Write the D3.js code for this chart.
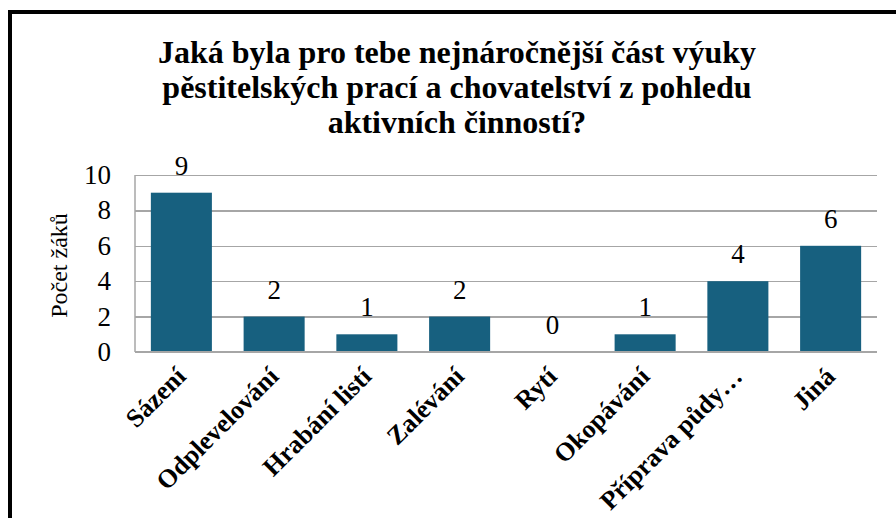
<!DOCTYPE html>
<html>
  <head>
    <meta charset="utf-8">
    <script src="https://cdn.jsdelivr.net/npm/d3@7"></script>
    <style type="text/css">
      body { margin: 0; background: #ffffff; }
      svg text { font-family: "Liberation Serif", "Times New Roman", serif; }
      .grid line { stroke: #a6a6a6; stroke-width: 1.5; shape-rendering: crispEdges; }
      .grid path { display: none; }
    </style>
  </head>
  <body>
    <script type="text/javascript">
      // chart data
      var titleLines = ["Jaká byla pro tebe nejnáročnější část výuky",
                        "pěstitelských prací a chovatelství z pohledu",
                        "aktivních činností?"];
      var categories = ["Sázení", "Odplevelování", "Hrabání listí", "Zalévání",
                        "Rytí", "Okopávání", "Příprava půdy…", "Jiná"];
      var counts = [9, 2, 1, 2, 0, 1, 4, 6];
      var yTicks = [0, 2, 4, 6, 8, 10];
      var yLabel = "Počet žáků";

      var width = 896, height = 518;
      var plotLeft = 135, plotRight = 877, plotTop = 175, plotBottom = 352;

      var svg = d3.select("body")
        .append("svg")
        .attr("width", width)
        .attr("height", height);

      // frame (top and left edge only, as in the picture)
      svg.append("path")
        .attr("d", "M10," + height + "V12H" + width)
        .attr("fill", "none")
        .attr("stroke", "#000")
        .attr("stroke-width", 4);

      // title
      svg.append("text")
        .attr("text-anchor", "middle")
        .style("font-size", "32px")
        .style("font-weight", "bold")
        .selectAll("tspan")
        .data(titleLines)
        .enter()
        .append("tspan")
        .attr("x", 457)
        .attr("y", function(d, i) { return 63 + i * 35; })
        .text(function(d) { return d; });

      var xScale = d3.scaleBand()
        .domain(categories)
        .range([plotLeft, plotRight])
        .paddingInner(0.342)
        .paddingOuter(0.171);

      var yScale = d3.scaleLinear()
        .domain([0, 10])
        .range([plotBottom, plotTop]);

      // gridlines
      svg.append("g")
        .attr("class", "grid")
        .attr("transform", "translate(" + plotLeft + ",0)")
        .call(d3.axisRight(yScale).tickValues(yTicks).tickSize(plotRight - plotLeft).tickFormat(""));

      // left axis line
      svg.append("line")
        .attr("x1", plotLeft).attr("x2", plotLeft)
        .attr("y1", plotTop).attr("y2", plotBottom)
        .attr("stroke", "#a6a6a6")
        .attr("stroke-width", 1.5);

      // bars
      svg.selectAll("rect.bar")
        .data(counts)
        .enter()
        .append("rect")
        .attr("class", "bar")
        .attr("x", function(d, i) { return xScale(categories[i]); })
        .attr("y", function(d) { return yScale(d); })
        .attr("width", xScale.bandwidth())
        .attr("height", function(d) { return plotBottom - yScale(d); })
        .attr("fill", "#17607f");

      // bottom axis line over the bars
      svg.append("line")
        .attr("x1", plotLeft).attr("x2", plotRight)
        .attr("y1", plotBottom).attr("y2", plotBottom)
        .attr("stroke", "#a6a6a6")
        .attr("stroke-width", 2);

      // value labels
      svg.selectAll("text.value")
        .data(counts)
        .enter()
        .append("text")
        .attr("class", "value")
        .attr("x", function(d, i) { return xScale(categories[i]) + xScale.bandwidth() / 2; })
        .attr("y", function(d) { return yScale(d) - 18; })
        .attr("text-anchor", "middle")
        .style("font-size", "27px")
        .text(function(d) { return d; });

      // y tick labels
      svg.selectAll("text.ytick")
        .data(yTicks)
        .enter()
        .append("text")
        .attr("class", "ytick")
        .attr("x", 111)
        .attr("y", function(d) { return yScale(d); })
        .attr("dy", "0.33em")
        .attr("text-anchor", "end")
        .style("font-size", "27px")
        .text(function(d) { return d; });

      // category labels
      svg.selectAll("text.cat")
        .data(categories)
        .enter()
        .append("text")
        .attr("class", "cat")
        .attr("text-anchor", "end")
        .attr("transform", function(d) {
          var x = xScale(d) + xScale.bandwidth() / 2 + 6;
          return "translate(" + x + "," + 378 + ")rotate(-45)";
        })
        .style("font-size", "26px")
        .style("font-weight", "bold")
        .text(function(d) { return d; });

      // y axis title
      svg.append("text")
        .attr("text-anchor", "middle")
        .attr("transform", "translate(67," + ((plotTop + plotBottom) / 2 + 2) + ")rotate(-90)")
        .style("font-size", "24px")
        .text(yLabel);
    </script>
  </body>
</html>
